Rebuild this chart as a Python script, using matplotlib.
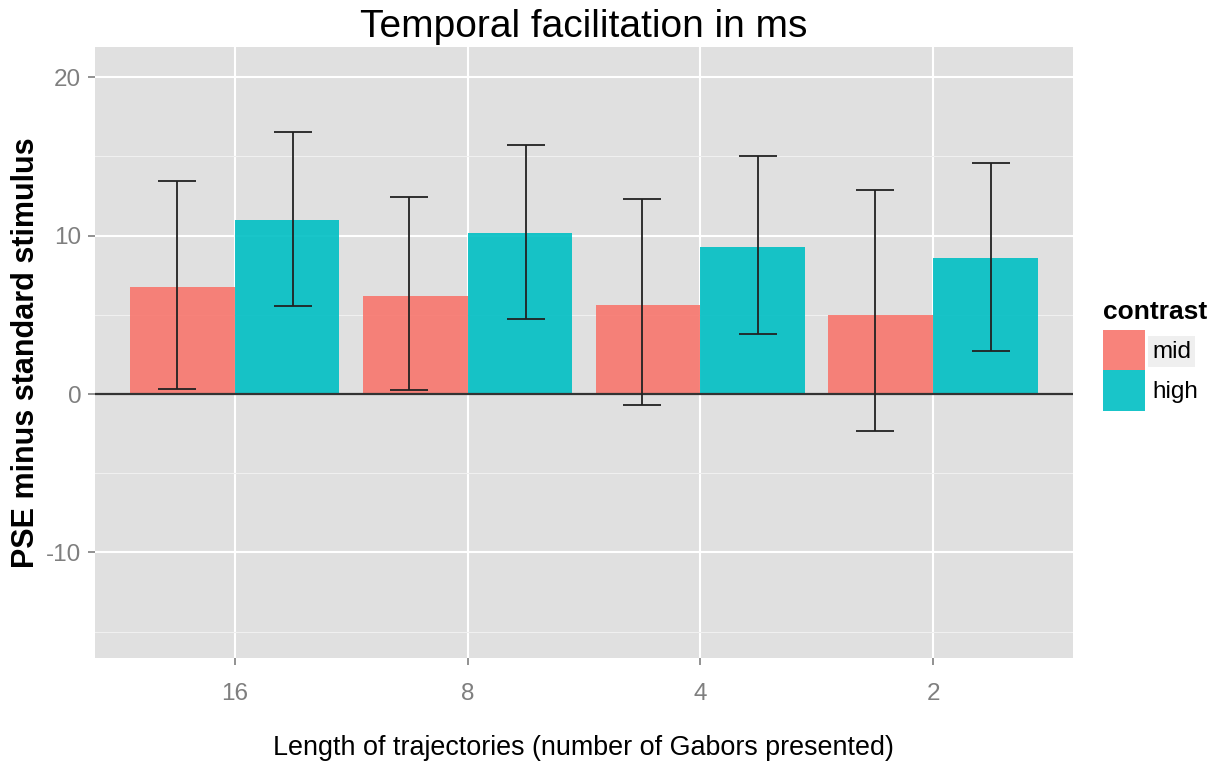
import numpy as np
import matplotlib
matplotlib.use("Agg")
import matplotlib.pyplot as plt
from matplotlib.patches import Patch

plt.rcParams['font.family'] = ['Liberation Sans', 'DejaVu Sans']
plt.rcParams['axes.unicode_minus'] = False

# data
lengths = ['16', '8', '4', '2']
contrasts = ['mid', 'high']
mid_pse = [6.75, 6.18, 5.60, 4.98]
mid_lo = [0.32, 0.25, -0.69, -2.33]
mid_hi = [13.44, 12.43, 12.30, 12.87]
high_pse = [10.98, 10.16, 9.27, 8.58]
high_lo = [5.55, 4.73, 3.78, 2.71]
high_hi = [16.53, 15.71, 15.00, 14.57]

colors = ['#F8766D', '#00BFC4']
fig = plt.figure(figsize=(12.19, 7.67), dpi=100)
ax = fig.add_axes([0.078, 0.1421, 0.802, 0.7966])
ax.set_facecolor('#E0E0E0')

x = np.arange(1, len(lengths) + 1)
bw = 0.45
series = [(mid_pse, mid_lo, mid_hi), (high_pse, high_lo, high_hi)]
for k, (vals, lo, hi) in enumerate(series):
    off = (k - 0.5) * bw
    ax.bar(x + off, vals, width=bw, color=colors[k], alpha=0.9,
           label=contrasts[k], zorder=2)
for k, (vals, lo, hi) in enumerate(series):
    ex = x + (k - 0.5) * 0.5
    vals = np.array(vals)
    ax.errorbar(ex, vals, yerr=[vals - np.array(lo), np.array(hi) - vals],
                fmt='none', ecolor='#222222', elinewidth=1.3,
                capsize=13.5, capthick=1.3, zorder=3)

ax.axhline(0, color='#333333', linewidth=1.6, zorder=2.5)

ax.set_xlim(0.4, 4.6)
ax.set_ylim(-16.66, 21.9)
ax.set_xticks(x)
ax.set_xticklabels(lengths)
ax.set_yticks([-10, 0, 10, 20])
ax.set_yticks([-15, -5, 5, 15], minor=True)
ax.grid(which='major', color='white', linewidth=1.5, zorder=0)
ax.grid(which='minor', axis='y', color='#F0F0F0', linewidth=0.8, zorder=0)
ax.set_axisbelow(True)
for s in ax.spines.values():
    s.set_visible(False)
ax.tick_params(axis='both', which='major', labelsize=17.5, labelcolor='#7F7F7F',
               color='#7F7F7F', length=5, width=1.2)
ax.tick_params(axis='both', which='minor', length=0)
ax.tick_params(axis='x', pad=13)
ax.tick_params(axis='y', pad=5)

ax.text(0.5, 1.0327, 'Temporal facilitation in ms', transform=ax.transAxes,
        ha='center', va='center', fontsize=28)
ax.set_ylabel('PSE minus standard stimulus', fontsize=22, fontweight='bold',
              va='center')
ax.yaxis.set_label_coords(-0.0706, 0.5)
ax.set_xlabel('Length of trajectories (number of Gabors presented)',
              fontsize=19.4, va='center')
ax.xaxis.set_label_coords(0.5, -0.147)

handles = [Patch(facecolor=c, edgecolor='none', alpha=0.9) for c in colors]
leg = ax.legend(handles, contrasts, title='contrast', loc='upper left',
                bbox_to_anchor=(1103 / 1219, 1 - 300 / 767),
                bbox_transform=fig.transFigure, frameon=False, fontsize=17.5,
                title_fontproperties={'weight': 'bold', 'size': 19},
                handlelength=1.73, handleheight=2.2, labelspacing=0.0,
                handletextpad=0.3, borderaxespad=0.0, borderpad=0.0)
leg._legend_box.align = 'left'
leg._legend_box.sep = 4
leg.get_texts()[0].set_bbox(dict(facecolor='#EFEFEF', edgecolor='none', pad=3))

fig.savefig('out.png', dpi=100)
